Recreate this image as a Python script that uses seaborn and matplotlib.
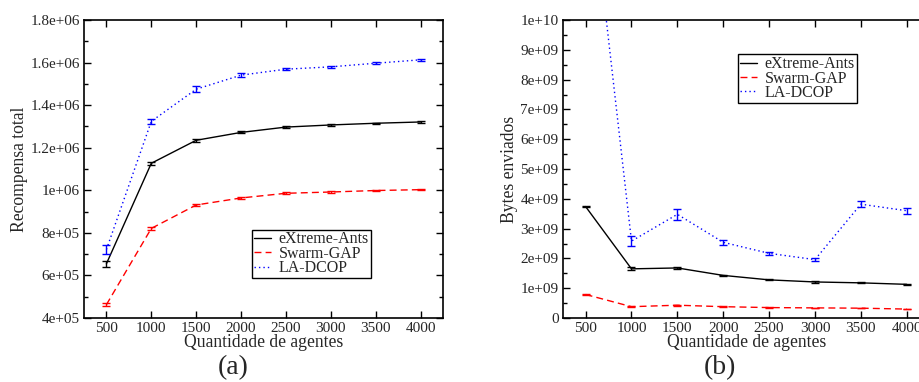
import numpy as np
import pandas as pd
import matplotlib
matplotlib.use("Agg")
import matplotlib.pyplot as plt
import seaborn as sns
from matplotlib.ticker import FixedLocator, FixedFormatter, MultipleLocator

# dados
agentes = [500, 1000, 1500, 2000, 2500, 3000, 3500, 4000]
series = ["eXtreme-Ants", "Swarm-GAP", "LA-DCOP"]

recompensa_ants = [6.55e5, 1.127e6, 1.235e6, 1.272e6, 1.297e6, 1.307e6, 1.315e6, 1.321e6]
recompensa_gap = [4.63e5, 8.21e5, 9.31e5, 9.64e5, 9.86e5, 9.92e5, 9.99e5, 1.003e6]
recompensa_dcop = [7.22e5, 1.324e6, 1.475e6, 1.541e6, 1.569e6, 1.580e6, 1.597e6, 1.613e6]
err_rec_ants = [1.3e4, 8e3, 6e3, 5e3, 4e3, 3e3, 3e3, 3e3]
err_rec_gap = [8e3, 8e3, 6e3, 5e3, 4e3, 3e3, 3e3, 3e3]
err_rec_dcop = [2.0e4, 1.3e4, 1.4e4, 8e3, 5e3, 4e3, 4e3, 5e3]

bytes_ants = [3.74e9, 1.65e9, 1.68e9, 1.43e9, 1.28e9, 1.21e9, 1.18e9, 1.13e9]
bytes_gap = [0.79e9, 0.38e9, 0.43e9, 0.38e9, 0.35e9, 0.34e9, 0.33e9, 0.30e9]
bytes_dcop = [1.61e10, 2.58e9, 3.48e9, 2.54e9, 2.17e9, 1.96e9, 3.82e9, 3.60e9]
err_bytes_ants = [0.03e9, 0.05e9, 0.03e9, 0.02e9, 0.02e9, 0.02e9, 0.02e9, 0.02e9]
err_bytes_gap = [0.02e9, 0.02e9, 0.02e9, 0.02e9, 0.01e9, 0.01e9, 0.01e9, 0.01e9]
err_bytes_dcop = [0.1e9, 0.17e9, 0.18e9, 0.08e9, 0.04e9, 0.04e9, 0.1e9, 0.1e9]

ticks_a = [4e5, 6e5, 8e5, 1e6, 1.2e6, 1.4e6, 1.6e6, 1.8e6]
labels_a = ["4e+05", "6e+05", "8e+05", "1e+06", "1.2e+06", "1.4e+06", "1.6e+06", "1.8e+06"]
ticks_b = [0, 1e9, 2e9, 3e9, 4e9, 5e9, 6e9, 7e9, 8e9, 9e9, 1e10]
labels_b = ["0", "1e+09", "2e+09", "3e+09", "4e+09", "5e+09", "6e+09", "7e+09", "8e+09", "9e+09", "1e+10"]

sns.set_style("ticks")
plt.rcParams["font.family"] = ["Liberation Serif", "DejaVu Serif"]

cores = {"eXtreme-Ants": "black", "Swarm-GAP": "red", "LA-DCOP": "blue"}
estilos = {"eXtreme-Ants": "-", "Swarm-GAP": (0, (5, 3)), "LA-DCOP": (0, (1, 2.2))}

fig = plt.figure(figsize=(9.2, 3.82), dpi=100)
ax1 = fig.add_axes([0.0913, 0.1675, 0.3902, 0.7801])
ax2 = fig.add_axes([0.6116, 0.1675, 0.3989, 0.7801])


def desenha(ax, ys, errs):
    for nome, y, e in zip(series, ys, errs):
        df = pd.DataFrame({"x": agentes, "y": y})
        sns.lineplot(data=df, x="x", y="y", ax=ax, color=cores[nome],
                     linestyle=estilos[nome], lw=1, label=nome)
        ax.errorbar(agentes, y, yerr=e, fmt="none", ecolor=cores[nome],
                    elinewidth=1, capsize=3, capthick=1)


desenha(ax1, [recompensa_ants, recompensa_gap, recompensa_dcop],
        [err_rec_ants, err_rec_gap, err_rec_dcop])
desenha(ax2, [bytes_ants, bytes_gap, bytes_dcop],
        [err_bytes_ants, err_bytes_gap, err_bytes_dcop])

for ax, ticks, labels, ylab, minor, lim in [
        (ax1, ticks_a, labels_a, "Recompensa total", 1e5, (4e5, 1.8e6)),
        (ax2, ticks_b, labels_b, "Bytes enviados", 5e8, (0, 1e10))]:
    ax.set_xlim(250, 4250)
    ax.set_ylim(*lim)
    ax.set_xticks(agentes)
    ax.set_xticklabels([str(a) for a in agentes])
    ax.yaxis.set_major_locator(FixedLocator(ticks))
    ax.yaxis.set_major_formatter(FixedFormatter(labels))
    ax.yaxis.set_minor_locator(MultipleLocator(minor))
    ax.tick_params(which="both", direction="in", top=True, right=True,
                   labelsize=11, width=1, color="black")
    ax.tick_params(which="major", length=5, pad=3)
    ax.tick_params(which="minor", length=3)
    ax.set_xlabel("Quantidade de agentes", fontsize=12.7, labelpad=-1)
    ax.set_ylabel(ylab, fontsize=12.7, labelpad=2)
    for s in ax.spines.values():
        s.set_linewidth(1.2)
        s.set_color("black")

leg_kw = dict(fontsize=11.5, frameon=True, fancybox=False, framealpha=1,
              edgecolor="black", handlelength=1.1, borderpad=0.12,
              labelspacing=-0.1, handletextpad=0.45, borderaxespad=0)
leg1 = ax1.legend(loc="upper left", bbox_to_anchor=(0.468, 0.297), **leg_kw)
leg2 = ax2.legend(loc="upper left", bbox_to_anchor=(0.477, 0.885), **leg_kw)
for leg in (leg1, leg2):
    leg.get_frame().set_linewidth(1.0)

fig.text(0.253, 0.038, "(a)", fontsize=20, ha="center", va="center")
fig.text(0.782, 0.038, "(b)", fontsize=20, ha="center", va="center")

fig.savefig("out.png", dpi=100)
